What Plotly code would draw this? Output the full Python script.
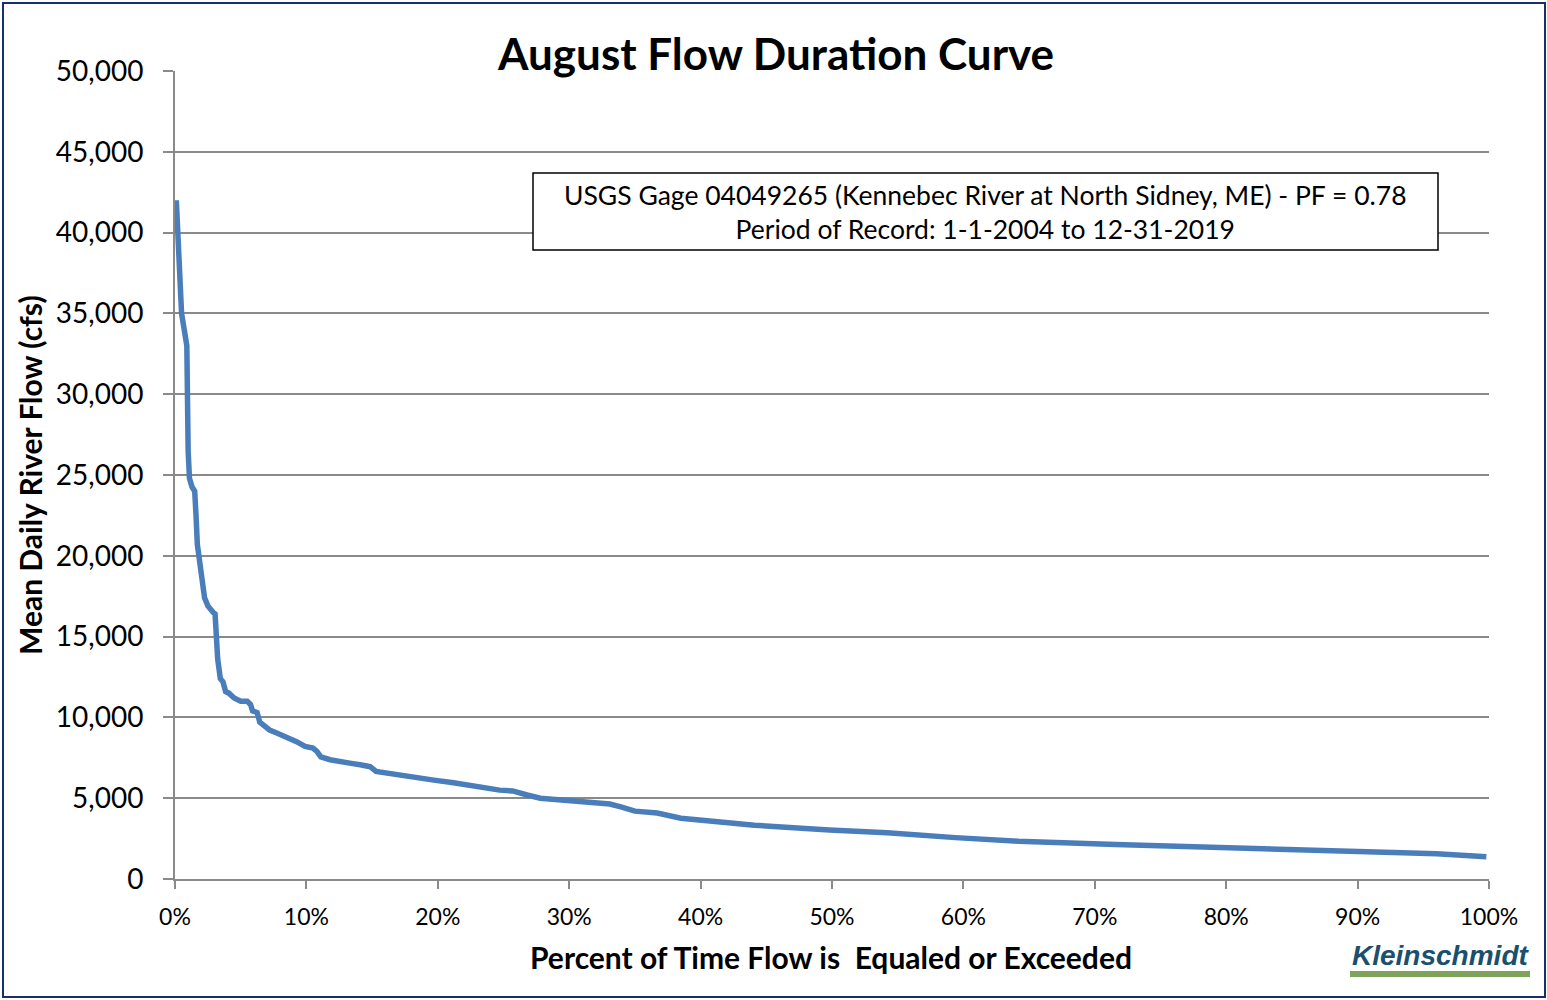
import plotly.graph_objects as go

# ---- data ----
pct_exceeded = [0.1, 0.3, 0.5, 0.7, 0.9, 1.0, 1.1, 1.3, 1.5, 1.6, 1.7, 2.0, 2.25, 2.5, 2.65,
                2.9, 3.05, 3.15, 3.25, 3.45, 3.65, 3.85, 4.1, 4.5, 5.0, 5.5, 5.75, 5.9, 6.05,
                6.25, 6.45, 6.8, 7.2, 7.7, 8.2, 8.75, 9.25, 9.9, 10.5, 10.8, 11.1, 11.8, 12.6,
                13.3, 14.2, 14.85, 15.3, 16.6, 17.6, 18.5, 19.7, 21.2, 22.7, 24.0, 24.7, 25.7,
                26.3, 26.8, 27.8, 29.3, 31.3, 33.1, 34.0, 35.0, 36.7, 37.6, 38.5, 41.1, 44.1,
                49.8, 54.2, 59.4, 64.2, 71.6, 76.0, 82.1, 85.0, 88.2, 93.4, 96.0, 98.2, 99.0, 99.8]
flow_cfs = [42000, 39000, 35000, 34000, 33000, 26500, 24800, 24250, 24000, 22500, 20700, 18900,
            17400, 16900, 16700, 16500, 16400, 13900, 13600, 12400, 12200, 11600, 11500, 11200,
            11000, 11000, 10800, 10400, 10350, 10300, 9700, 9450, 9220, 9050, 8900, 8700, 8500,
            8200, 8100, 7900, 7560, 7380, 7300, 7170, 7050, 6950, 6660, 6500, 6300, 6200, 6120,
            5960, 5760, 5620, 5500, 5450, 5350, 5200, 5000, 4900, 4760, 4640, 4450, 4200, 4080,
            3900, 3760, 3560, 3330, 3030, 2860, 2560, 2340, 2140, 2050, 1930, 1860, 1770, 1620,
            1560, 1460, 1420, 1380]

x_ticks = [0, 10, 20, 30, 40, 50, 60, 70, 80, 90, 100]
x_tick_labels = ["0%", "10%", "20%", "30%", "40%", "50%", "60%", "70%", "80%", "90%", "100%"]
y_ticks = [0, 5000, 10000, 15000, 20000, 25000, 30000, 35000, 40000, 45000, 50000]

title_text = "August Flow Duration Curve"
box_text = ("USGS Gage 04049265 (Kennebec River at North Sidney, ME) - PF = 0.78<br>"
            "Period of Record: 1-1-2004 to 12-31-2019")
x_title = "Percent of Time Flow is&nbsp; Equaled or Exceeded"
y_title = "Mean Daily River Flow (cfs)"
logo_text = "Kleinschmidt"

FONT = "Lato"
GRID = "#8a8a8a"

fig = go.Figure()
fig.add_trace(go.Scatter(
    x=pct_exceeded, y=flow_cfs, mode="lines",
    line=dict(color="#4A7EBB", width=5.5),
    showlegend=False, hoverinfo="skip"))

fig.update_layout(
    width=1547, height=1000,
    margin=dict(l=175, r=58, t=71, b=121, autoexpand=False),
    paper_bgcolor="white", plot_bgcolor="white",
    font=dict(family=FONT, color="black"),
    xaxis=dict(range=[0, 100], tickvals=x_ticks, ticktext=x_tick_labels,
               showgrid=False, zeroline=False,
               showline=True, linecolor=GRID, linewidth=2,
               ticks="outside", ticklen=8, tickwidth=2, tickcolor=GRID,
               tickfont=dict(family=FONT, size=23, color="black"),
               ticklabelstandoff=8),
    yaxis=dict(range=[0, 50000], tickvals=y_ticks, tickformat=",",
               showgrid=True, gridcolor=GRID, gridwidth=2,
               zeroline=False,
               showline=True, linecolor=GRID, linewidth=2,
               ticks="outside", ticklen=10, tickwidth=2, tickcolor=GRID,
               tickfont=dict(family=FONT, size=28, color="black"),
               ticklabelstandoff=14),
)

def px_x(px):
    return (px - 175) / 1314.0

def px_y(py):
    return (879 - py) / 808.0

shapes = [
    # outer chart border
    dict(type="rect", xref="paper", yref="paper",
         x0=px_x(3), x1=px_x(1545), y0=px_y(997), y1=px_y(3),
         line=dict(color="#17306B", width=2), fillcolor="rgba(0,0,0,0)", layer="below"),
    # text box
    dict(type="rect", xref="paper", yref="paper",
         x0=px_x(533), x1=px_x(1438), y0=px_y(250), y1=px_y(173),
         line=dict(color="black", width=1.5), fillcolor="white", layer="above"),
    # logo underline
    dict(type="rect", xref="paper", yref="paper",
         x0=px_x(1350), x1=px_x(1530), y0=px_y(977), y1=px_y(971),
         line=dict(width=0), fillcolor="#7DA45A", layer="above"),
]
fig.update_layout(shapes=shapes)

annotations = [
    dict(text="<b>" + title_text + "</b>", xref="paper", yref="paper",
         x=px_x(775), y=px_y(53), xanchor="center", yanchor="middle",
         showarrow=False, font=dict(family=FONT, size=44, color="black")),
    dict(text=box_text, xref="paper", yref="paper",
         x=px_x(985), y=px_y(212), xanchor="center", yanchor="middle",
         showarrow=False, align="center",
         font=dict(family=FONT, size=26.5, color="black")),
    dict(text="<b>" + x_title + "</b>", xref="paper", yref="paper",
         x=px_x(831), y=px_y(957), xanchor="center", yanchor="middle",
         showarrow=False, font=dict(family=FONT, size=30, color="black")),
    dict(text="<b>" + y_title + "</b>", xref="paper", yref="paper",
         x=px_x(30), y=px_y(475), xanchor="center", yanchor="middle",
         textangle=-90, showarrow=False,
         font=dict(family=FONT, size=30, color="black")),
    dict(text="<b><i>" + logo_text + "</i></b>", xref="paper", yref="paper",
         x=px_x(1440), y=px_y(955), xanchor="center", yanchor="middle",
         showarrow=False,
         font=dict(family="Liberation Sans", size=28, color="#1B4F6E")),
]
fig.update_layout(annotations=annotations)

fig.write_html("out.html",
               config={"displayModeBar": False},
               post_script="document.body.style.margin='0';document.body.style.padding='0';")
